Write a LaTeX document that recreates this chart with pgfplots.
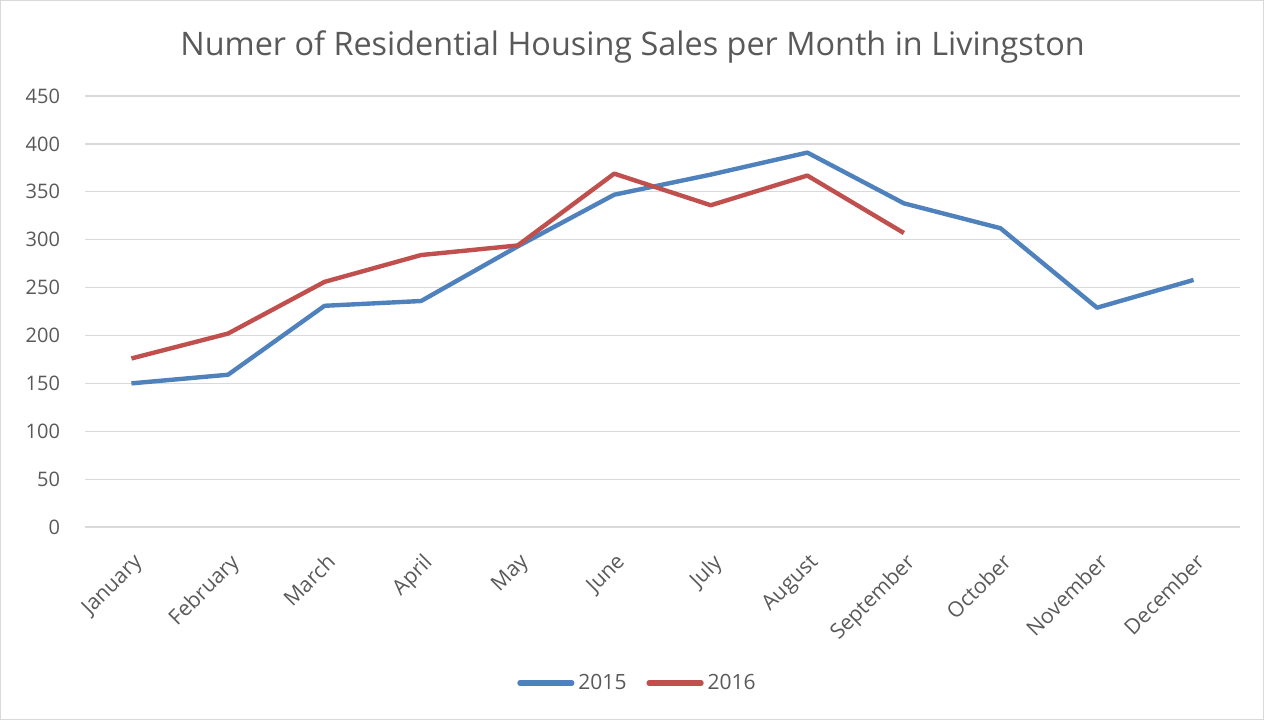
\documentclass[border=0pt]{standalone}
\usepackage{fontspec}
\setmainfont{Open Sans}
\usepackage{pgfplots}
\pgfplotsset{compat=1.18}
\definecolor{s15}{HTML}{4F81BD}
\definecolor{s16}{HTML}{C0504D}
\definecolor{txt}{HTML}{595959}
\definecolor{gridc}{HTML}{D9D9D9}

\begin{document}
\begin{tikzpicture}
\begin{axis}[
 scale only axis, width=577.5pt, height=215.5pt,
 xmin=-0.48, xmax=11.48, ymin=0, ymax=450,
 ytick={0,50,...,450},
 xtick={0,...,11},
 xticklabels={January,February,March,April,May,June,July,August,September,October,November,December},
 x tick label style={rotate=45, anchor=north east, font=\fontsize{10.6}{12}\selectfont, text=txt, inner sep=1pt, xshift=-7.5pt, yshift=-8pt},
 y tick label style={font=\fontsize{10}{12}\selectfont, text=txt, xshift=-9pt},
 /pgf/number format/assume math mode=true,
 axis line style={draw=none},
 major tick length=0pt,
 ymajorgrids, grid style={gridc, line width=0.6pt},
 clip=false,
 legend style={draw=none, fill=none, at={(0.5,-0.362)}, xshift=-12pt, anchor=center, legend columns=2,
   font=\fontsize{10.5}{12}\selectfont, text=txt, /tikz/every even column/.append style={column sep=8pt}},
 legend image code/.code={\draw[#1, line cap=round, line width=2.6pt] (0pt,0pt) -- (26pt,0pt);},
 title={Numer of Residential Housing Sales per Month in Livingston},
 title style={font=\fontsize{16.2}{19}\selectfont, text=txt, yshift=7pt, xshift=-15pt},
]
\draw[gridc, line width=0.6pt] (rel axis cs:0,0) -- (rel axis cs:1,0);
\addplot[s15, line width=2.2pt, line join=round] coordinates {
 (0,150) (1,159) (2,231) (3,236) (4,293) (5,347) (6,368) (7,391) (8,338) (9,312) (10,229) (11,258)};
\addlegendentry{2015}
\addplot[s16, line width=2.2pt, line join=round] coordinates {
 (0,176) (1,202) (2,256) (3,284) (4,294) (5,369) (6,336) (7,367) (8,307)};
\addlegendentry{2016}
\draw[gridc, line width=0.6pt] ([xshift=-42.25pt,yshift=-96.25pt]rel axis cs:0,0) rectangle ([xshift=11.75pt,yshift=47.75pt]rel axis cs:1,1);
\end{axis}
\end{tikzpicture}
\end{document}
